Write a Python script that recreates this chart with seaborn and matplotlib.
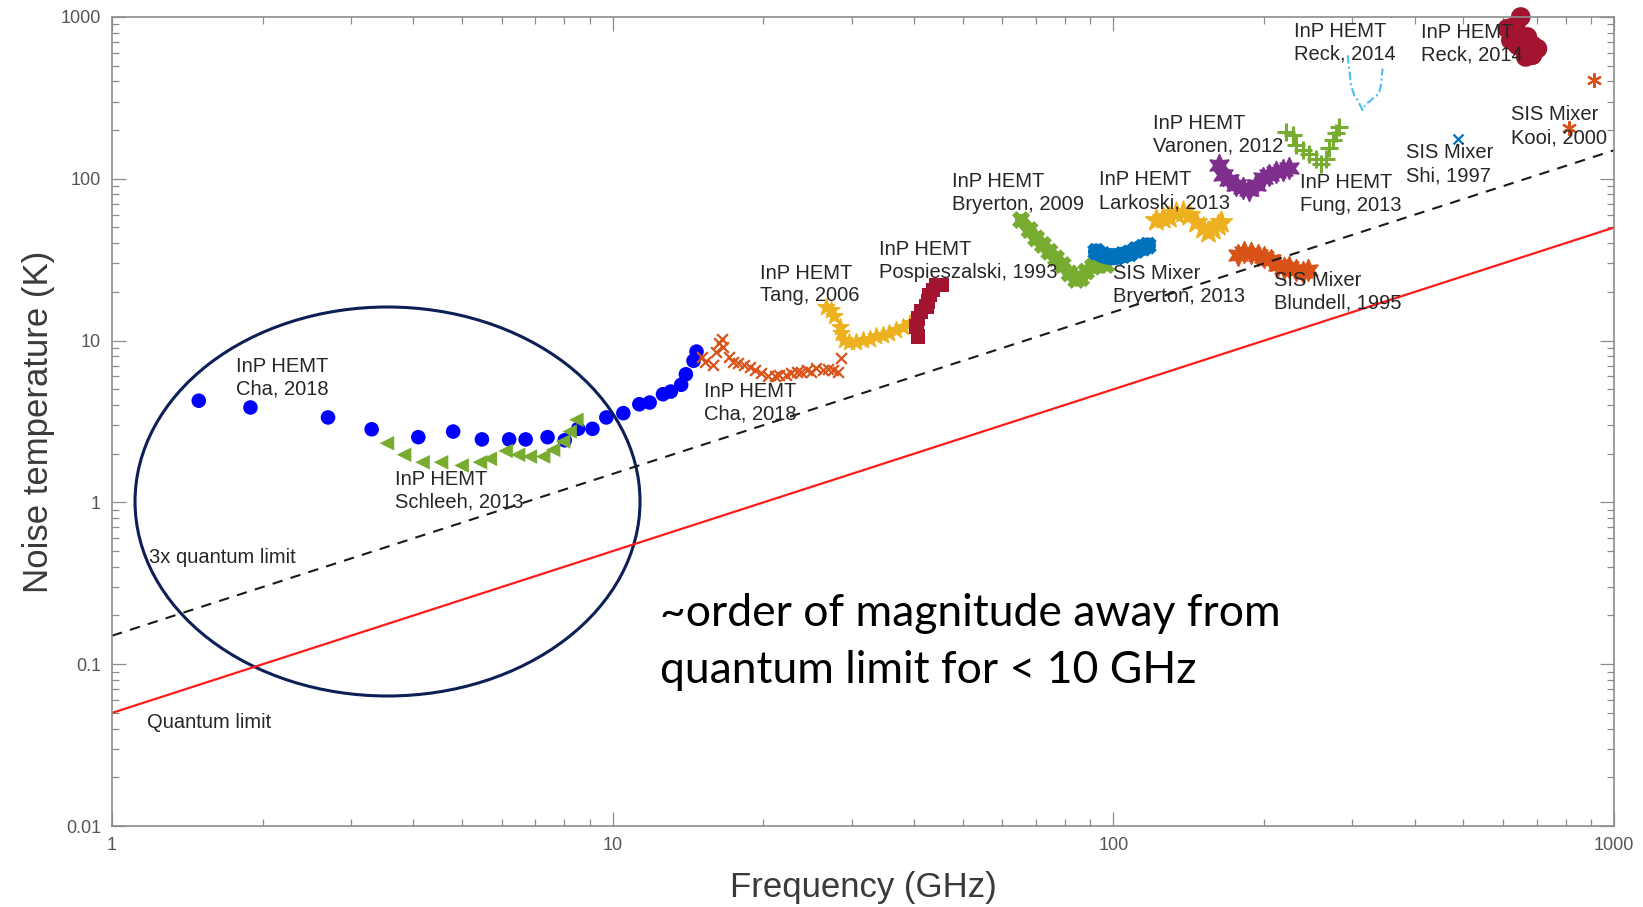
import matplotlib
matplotlib.use('Agg')
import matplotlib.pyplot as plt
from matplotlib.patches import Ellipse
from matplotlib.ticker import FixedLocator, LogLocator, NullFormatter
import seaborn as sns

# Quantum limit lines (K) at 1 GHz and 1000 GHz
limit_f = [1, 1000]
ql_t = [0.05, 50]
ql3_t = [0.15, 150]

# InP HEMT, Cha 2018 (blue circles)
cha_f = [1.49, 1.89, 2.70, 3.30, 4.09, 4.80, 5.48, 6.21, 6.70, 7.41, 8.02, 8.53,
         9.11, 9.71, 10.5, 11.3, 11.85, 12.6, 13.06, 13.7, 14.0, 14.5, 14.7]
cha_t = [4.25, 3.86, 3.35, 2.83, 2.53, 2.74, 2.45, 2.45, 2.45, 2.53, 2.42, 2.85,
         2.85, 3.35, 3.56, 4.04, 4.14, 4.66, 4.84, 5.33, 6.19, 7.5, 8.55]

# InP HEMT, Schleeh 2013 (green triangles)
schleeh_f = [3.54, 3.83, 4.17, 4.54, 4.99, 5.43, 5.68, 6.11, 6.47, 6.83, 7.26, 7.60, 7.96, 8.20, 8.46]
schleeh_t = [2.32, 1.97, 1.77, 1.77, 1.69, 1.77, 1.86, 2.08, 1.97, 1.92, 1.92, 2.11, 2.38, 2.74, 3.24]

# InP HEMT, Cha 2018 (orange x)
cha2_f = [15.1, 15.26, 15.86, 16.1, 16.3, 16.5, 16.6, 17.1, 17.4, 17.8, 18.3, 18.8, 19.2, 19.8,
          20.4, 21.1, 21.5, 22.2, 22.7, 23.3, 23.8, 24.4, 24.9, 25.5, 26.3, 26.9, 27.5, 28.2, 28.6]
cha2_t = [7.97, 7.42, 7.08, 8.55, 9.63, 10.3, 9.18, 7.97, 7.42, 7.24, 7.08, 6.91, 6.6, 6.29,
          6.0, 6.0, 6.14, 6.14, 6.29, 6.44, 6.44, 6.6, 6.44, 6.75, 6.6, 6.69, 6.6, 6.44, 7.78]

# InP HEMT, Tang 2006 (yellow stars)
tang_f = [26.7, 27.3, 27.7, 28.4, 28.6, 29.0, 29.7, 30.6, 31.6, 32.6, 33.6, 34.6, 35.7, 36.8, 38.0, 39.2]
tang_t = [16.2, 15.5, 14.1, 12.2, 11.1, 10.1, 9.86, 9.86, 10.1, 10.3, 10.6, 10.8, 11.1, 11.6, 12.2, 12.8]

# InP HEMT, Pospieszalski 1993 (dark red squares)
posp_f = [40.7, 40.4, 40.7, 41.3, 42.3, 42.6, 42.9, 43.6, 44.3, 45.3]
posp_t = [10.6, 12.2, 13.7, 15.1, 16.2, 17.4, 19.1, 20.5, 22.0, 22.0]

# InP HEMT, Bryerton 2009 (green band)
bry09_f = [65.4, 68.0, 70.1, 72.3, 74.5, 76.8, 79.2, 81.7, 84.3, 86.2, 88.2, 91.0, 93.8, 96.7]
bry09_t = [55.6, 48.2, 42.8, 39.0, 35.4, 32.2, 29.3, 26.0, 23.7, 24.3, 26.7, 28.6, 29.3, 29.3]

# SIS Mixer, Bryerton 2013 (blue band)
bry13_f = [92.4, 95.2, 98.2, 101.3, 104.4, 107.7, 111.0, 114.5, 117.1]
bry13_t = [35.4, 33.8, 33.0, 33.0, 33.8, 34.6, 36.3, 37.5, 38.6]

# InP HEMT, Larkoski 2013 (yellow stars)
lark_f = [121.7, 125.5, 129.4, 133.4, 137.5, 141.8, 146.3, 150.8, 154.3, 157.9, 161.6, 164.1]
lark_t = [55.6, 56.9, 58.3, 61.1, 62.6, 59.7, 54.3, 49.4, 47.1, 48.9, 51.8, 54.3]

# InP HEMT, Varonen 2012 (purple hexagrams)
var_f = [162.8, 165.3, 170.4, 175.8, 181.2, 186.8, 192.7, 198.6, 204.8, 211.2, 217.8, 224.5]
var_t = [121.5, 105.4, 98.2, 91.5, 87.1, 85.2, 91.5, 100.5, 105.4, 110.5, 113.2, 115.8]

# SIS Mixer, Blundell 1995 (orange hexagrams)
blun_f = [177, 182.6, 188.3, 194.1, 200.2, 206.5, 212.8, 219.4, 224.5, 231.6, 238.8, 244.4]
blun_t = [33.8, 35.4, 34.6, 33.8, 33.0, 31.5, 29.3, 27.9, 28.6, 27.3, 26.7, 27.3]

# InP HEMT, Fung 2013 (green plus)
fung_f = [221.2, 228, 231.6, 238.8, 246, 253.9, 259.8, 265.8, 269.9, 274, 278, 282.6]
fung_t = [195, 186, 161.5, 150, 143, 133, 124, 133, 154, 173, 190.5, 209.5]

# InP HEMT, Reck 2014 (light blue dash-dot)
reck1_f = [293.6, 295.8, 298.1, 302.7, 307.4, 314.5, 319.4, 324.3, 329.4, 334.4, 339.6, 342.3, 344.9]
reck1_t = [580, 480, 379, 329, 306, 265.5, 291.7, 298.8, 313, 320.8, 344.5, 379, 480]

# InP HEMT, Reck 2014 (dark red circles)
reck2_f = [651, 636, 641, 656, 671, 687, 703, 687, 666, 641, 622, 612]
reck2_t = [1000, 889, 789, 735, 753, 669, 637, 580, 566, 669, 718, 847]

# SIS Mixer, Shi 1997 and Kooi 2000
shi_f = [488]
shi_t = [177]
kooi_f = [811, 912]
kooi_t = [206.5, 410]

labels = ['InP HEMT\nCha, 2018', 'InP HEMT\nSchleeh, 2013', 'InP HEMT\nCha, 2018',
          'InP HEMT\nTang, 2006', 'InP HEMT\nPospieszalski, 1993', 'InP HEMT\nBryerton, 2009',
          'InP HEMT\nLarkoski, 2013', 'SIS Mixer\nBryerton, 2013', 'InP HEMT\nVaronen, 2012',
          'InP HEMT\nFung, 2013', 'SIS Mixer\nBlundell, 1995', 'InP HEMT\nReck, 2014',
          'InP HEMT\nReck, 2014', 'SIS Mixer\nShi, 1997', 'SIS Mixer\nKooi, 2000',
          '3x quantum limit', 'Quantum limit']
label_f = [1.768, 3.67, 15.19, 19.65, 34.1, 47.7, 93.8, 100, 120.2, 236, 209.6, 229.8,
           411.9, 384.6, 622.7, 1.185, 1.175]
label_t = [5.87, 1.186, 4.14, 22.2, 30.95, 81.9, 83.7, 22.0, 187, 80.8, 20.1, 696,
           681, 122.9, 211, 0.4576, 0.0439]

sns.set_style('ticks')
plt.rcParams['font.family'] = ['Liberation Sans', 'DejaVu Sans']

fig = plt.figure(figsize=(16.43, 9.07), dpi=100)
ax = fig.add_axes([0.0682, 0.0893, 0.9142, 0.8920])
ax.set_xscale('log')
ax.set_yscale('log')

# Limit lines
ax.plot(limit_f, ql_t, color='#ff1a1a', lw=1.6)
ax.plot(limit_f, ql3_t, color='#1a1a1a', lw=1.5, ls=(0, (5, 4)))

# Thick bands (dense markers in the original)
sns.lineplot(x=bry09_f, y=bry09_t, color='#77ac30', lw=9, sort=False, estimator=None, ax=ax)
sns.lineplot(x=bry13_f, y=bry13_t, color='#0072bd', lw=12, sort=False, estimator=None, ax=ax)
sns.lineplot(x=reck1_f, y=reck1_t, color='#4dbeee', lw=1.5, sort=False, estimator=None,
             ax=ax, linestyle=(0, (4, 1.5, 1, 1.5)))

sns.scatterplot(x=cha_f, y=cha_t, marker='o', color='#0000ff', s=110, edgecolor='none', ax=ax)
sns.scatterplot(x=schleeh_f, y=schleeh_t, marker='<', color='#77ac30', s=110, edgecolor='none', ax=ax)
sns.scatterplot(x=cha2_f, y=cha2_t, marker='x', color='#d95319', s=60, linewidth=1.6, ax=ax)
sns.scatterplot(x=tang_f, y=tang_t, marker='*', color='#edb120', s=160, edgecolor='#edb120', ax=ax)
sns.scatterplot(x=posp_f, y=posp_t, marker='s', color='#a2142f', s=110, edgecolor='none', ax=ax)
sns.scatterplot(x=bry09_f, y=bry09_t, marker='X', color='#77ac30', s=170, edgecolor='none', ax=ax)
sns.scatterplot(x=bry13_f, y=bry13_t, marker='X', color='#0072bd', s=170, edgecolor='none', ax=ax)
sns.scatterplot(x=lark_f, y=lark_t, marker='*', color='#edb120', s=260, edgecolor='#edb120', ax=ax)
sns.scatterplot(x=var_f, y=var_t, marker=(6, 1, 0), color='#7e2f8e', s=240, edgecolor='#7e2f8e', ax=ax)
sns.scatterplot(x=blun_f, y=blun_t, marker=(6, 1, 0), color='#d95319', s=240, edgecolor='#d95319', ax=ax)
sns.scatterplot(x=fung_f, y=fung_t, marker='+', color='#77ac30', s=160, linewidth=2.2, ax=ax)
sns.scatterplot(x=reck2_f, y=reck2_t, marker='o', color='#a2142f', s=200, edgecolor='none',
                clip_on=False, ax=ax)
sns.scatterplot(x=shi_f, y=shi_t, marker='x', color='#0072bd', s=50, linewidth=1.6, ax=ax)
sns.scatterplot(x=kooi_f, y=kooi_t, marker=(6, 2, 0), color='#d95319', s=90, linewidth=1.6, ax=ax)

for txt, fx, ty in zip(labels, label_f, label_t):
    ax.text(fx, ty, txt, fontsize=14.5, color='#262626', ha='left', va='center',
            linespacing=1.25)

# Highlighted low-frequency region
ax.add_patch(Ellipse((0.1834, 0.4011), 0.3362, 0.4808, transform=ax.transAxes,
                     fill=False, edgecolor='#0c1f56', lw=2.2, clip_on=False))

ax.text(12.41, 0.1367, '~order of magnitude away from\nquantum limit for < 10 GHz',
        fontsize=32, family=['Lato', 'DejaVu Sans'], color='black',
        ha='left', va='center', linespacing=1.5)

ax.set_xlim(1, 1000)
ax.set_ylim(0.01, 1000)
ax.xaxis.set_major_locator(FixedLocator([1, 10, 100, 1000]))
ax.yaxis.set_major_locator(FixedLocator([0.01, 0.1, 1, 10, 100, 1000]))
ax.xaxis.set_minor_locator(LogLocator(base=10, subs=range(2, 10)))
ax.yaxis.set_minor_locator(LogLocator(base=10, subs=range(2, 10)))
ax.xaxis.set_minor_formatter(NullFormatter())
ax.yaxis.set_minor_formatter(NullFormatter())
ax.set_xticklabels(['1', '10', '100', '1000'])
ax.set_yticklabels(['0.01', '0.1', '1', '10', '100', '1000'])

ax.tick_params(which='both', direction='in', top=True, right=True,
               color='#8c8c8c', labelcolor='#555555', labelsize=13, width=0.9)
ax.tick_params(which='major', length=10, pad=8)
ax.tick_params(which='minor', length=5)
for sp in ax.spines.values():
    sp.set_color('#8c8c8c')
    sp.set_linewidth(1.2)

ax.set_xlabel('Frequency (GHz)', fontsize=25, color='#3a3a3a', labelpad=12)
ax.set_ylabel('Noise temperature (K)', fontsize=25, color='#3a3a3a', labelpad=4)

fig.savefig('out.png', dpi=100)
